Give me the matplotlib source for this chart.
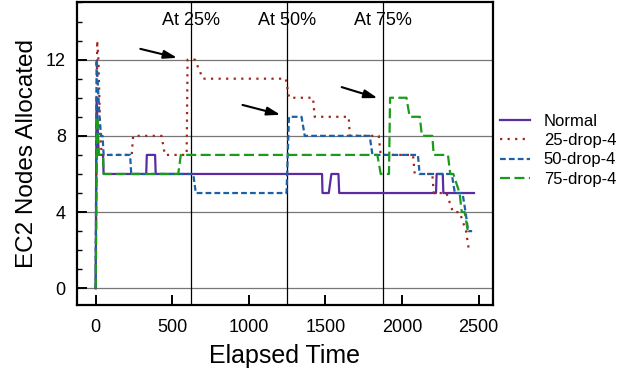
import matplotlib
matplotlib.use('Agg')
import matplotlib.pyplot as plt

plt.rcParams['font.family'] = ['Liberation Sans', 'DejaVu Sans']

# ---- data ----
normal_t = [0, 6, 20, 48, 52, 330, 334, 388, 392, 1478, 1481, 1522, 1539, 1585, 1590, 2222, 2226, 2266, 2270, 2470]
normal_y = [0, 10, 7, 7, 6, 6, 7, 7, 6, 6, 5, 5, 6, 6, 5, 5, 6, 6, 5, 5]

drop25_t = [0, 10, 18, 30, 40, 235, 245, 430, 452, 594, 600, 648, 700, 1241, 1263, 1419, 1430, 1652, 1659, 1848,
            1861, 2072, 2083, 2198, 2207, 2290, 2333, 2376, 2418, 2437]
drop25_y = [0, 13, 12, 8, 7, 7, 8, 8, 7, 7, 12, 12, 11, 11, 10, 10, 9, 9, 8, 8,
            7, 7, 6, 6, 5, 5, 4, 4, 3, 2]

drop50_t = [0, 6, 25, 35, 45, 52, 225, 232, 637, 654, 1246, 1262, 1344, 1365, 1789, 1807, 2104, 2115, 2325, 2345,
            2395, 2415, 2432, 2458]
drop50_y = [0, 12, 9, 8, 8, 7, 7, 6, 6, 5, 5, 9, 9, 8, 8, 7, 7, 6, 6, 5,
            5, 4, 3, 3]

drop75_t = [0, 10, 20, 48, 52, 539, 556, 1839, 1861, 1915, 1922, 2029, 2050, 2116, 2130, 2198, 2207, 2300, 2315, 2335,
            2376, 2390, 2409, 2430]
drop75_y = [0, 9, 7, 7, 6, 6, 7, 7, 6, 6, 10, 10, 9, 9, 8, 8, 7, 7, 6, 6,
            5, 4, 4, 3]

marks = [625, 1250, 1875]
mark_labels = ['At 25%', 'At 50%', 'At 75%']
# arrows: (tail x, tail y, head x, head y)
arrows = [(274, 12.6, 550, 12.06), (941, 9.66, 1224, 9.07), (1589, 10.6, 1858, 9.94)]

fig = plt.figure(figsize=(6.32, 3.79), dpi=100)
ax = fig.add_axes([0.1218, 0.1953, 0.658, 0.7997])

for y in [0, 4, 8, 12]:
    ax.axhline(y, color='#777777', lw=0.9, zorder=1)
for x, lab in zip(marks, mark_labels):
    ax.axvline(x, color='black', lw=0.9, zorder=1)
    ax.text(x, 14.06, lab, ha='center', va='center', fontsize=13)

ax.plot(normal_t, normal_y, color='#5b2ca0', lw=1.6, label='Normal', zorder=3)
ax.plot(drop25_t, drop25_y, color='#a3261d', lw=1.6, ls=(0, (1, 2.4)), label='25-drop-4', zorder=4)
ax.plot(drop50_t, drop50_y, color='#1c60a6', lw=1.6, ls=(0, (2.6, 1.4)), label='50-drop-4', zorder=5)
ax.plot(drop75_t, drop75_y, color='#1a9c1a', lw=1.6, ls=(0, (4.5, 2)), label='75-drop-4', zorder=6)

for (x0, y0, x1, y1) in arrows:
    ax.annotate('', xy=(x1, y1), xytext=(x0, y0),
                arrowprops=dict(arrowstyle='-|>,head_length=0.8,head_width=0.25', color='black', lw=1.5,
                                mutation_scale=10))

ax.set_xlim(-122, 2593)
ax.set_ylim(-0.875, 15.03)
ax.set_xticks([0, 500, 1000, 1500, 2000, 2500])
ax.set_yticks([0, 4, 8, 12])
ax.set_yticks(range(0, 16), minor=True)
ax.tick_params(axis='both', which='major', direction='in', length=7, width=1.4, labelsize=13)
ax.tick_params(axis='x', which='major', pad=10)
ax.tick_params(axis='y', which='major', pad=8)
ax.tick_params(axis='y', which='minor', direction='in', length=3.5, width=1.0)
for s in ax.spines.values():
    s.set_linewidth(1.6)

ax.set_xlabel('Elapsed Time', fontsize=18, labelpad=6)
ax.set_ylabel('EC2 Nodes Allocated', fontsize=17.5, labelpad=6)

ax.legend(loc='center left', bbox_to_anchor=(0.99, 0.51), frameon=False, fontsize=12,
          handlelength=1.8, labelspacing=0.25, handletextpad=0.8, borderaxespad=0.3)

fig.savefig('out.png', dpi=100)
